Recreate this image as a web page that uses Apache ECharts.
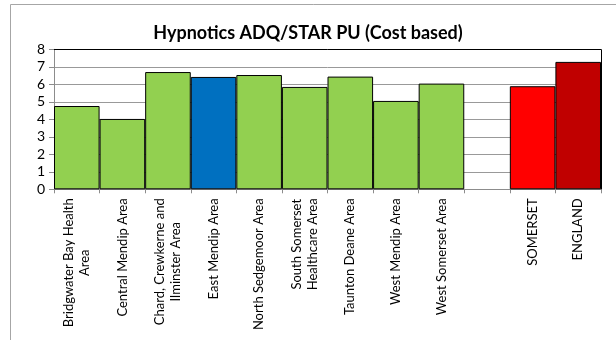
<!DOCTYPE html>
<html>
<head>
<meta charset="utf-8">
<script src="https://cdn.jsdelivr.net/npm/echarts@6/dist/echarts.min.js"></script>
<style>
  html, body { margin: 0; padding: 0; background: #fff; }
  #chart { width: 616px; height: 340px; }
</style>
</head>
<body>
<div id="chart"></div>
<script>
// Areas, with an empty slot separating the local areas from the totals
var categories = [
  'Bridgwater Bay Health\nArea',
  'Central Mendip Area',
  'Chard, Crewkerne and\nIlminster Area',
  'East Mendip Area',
  'North Sedgemoor Area',
  'South Somerset\nHealthcare Area',
  'Taunton Deane Area',
  'West Mendip Area',
  'West Somerset Area',
  '',
  'SOMERSET',
  'ENGLAND'
];

// Hypnotics ADQ/STAR PU (cost based)
var values = [4.76, 4.02, 6.70, 6.42, 6.53, 5.85, 6.44, 5.05, 6.04, null, 5.89, 7.28];

// Value axis ticks
var yTicks = [0, 1, 2, 3, 4, 5, 6, 7, 8];

var titleText = 'Hypnotics ADQ/STAR PU (Cost based)';

// Fill for each bar: local areas green, highlighted area blue, totals red
var barColors = ['#92D050', '#92D050', '#92D050', '#0070C0', '#92D050', '#92D050',
                 '#92D050', '#92D050', '#92D050', '#92D050', '#FF0000', '#C00000'];

var font = 'Lato, "Noto Sans", sans-serif';

var chart = echarts.init(document.getElementById('chart'), null, { renderer: 'canvas' });

var seriesData = values.map(function (v, i) {
  return {
    value: v,
    itemStyle: { color: barColors[i] }
  };
});

chart.setOption({
  animation: false,
  backgroundColor: '#ffffff',
  title: {
    text: titleText,
    left: 'center',
    top: 19,
    textStyle: {
      fontFamily: font,
      fontSize: 18,
      fontWeight: 'bold',
      color: '#000'
    }
  },
  graphic: [{
    type: 'rect',
    shape: { x: 10.5, y: 4.5, width: 700, height: 500 },
    style: { fill: 'none', stroke: '#A6A6A6', lineWidth: 1 },
    silent: true,
    z: -1
  }],
  grid: {
    left: 54,
    right: 15,
    top: 49.3,
    bottom: 150.7,
    show: false
  },
  xAxis: {
    type: 'category',
    data: categories,
    boundaryGap: true,
    axisLine: { show: true, lineStyle: { color: '#8c8c8c', width: 1 } },
    axisTick: { show: true, length: 4, lineStyle: { color: '#8c8c8c' } },
    axisLabel: {
      interval: 0,
      rotate: 90,
      margin: 9,
      fontFamily: font,
      fontSize: 13,
      color: '#000',
      formatter: function (v) {
        if (!v) return '';
        return v.split('\n').map(function (l) { return '{c|' + l + '}'; }).join('\n');
      },
      rich: {
        c: { align: 'center', fontFamily: font, fontSize: 13, lineHeight: 16, color: '#000' }
      }
    },
    splitLine: { show: false }
  },
  yAxis: {
    type: 'value',
    min: yTicks[0],
    max: yTicks[yTicks.length - 1],
    interval: 1,
    axisLine: { show: true, lineStyle: { color: '#8c8c8c', width: 1 } },
    axisTick: { show: true, inside: false, length: 5, lineStyle: { color: '#8c8c8c' } },
    axisLabel: {
      margin: 9,
      fontFamily: font,
      fontSize: 14,
      color: '#000'
    },
    splitLine: { show: true, lineStyle: { color: '#999999', width: 1 } }
  },
  series: [{
    type: 'bar',
    data: seriesData,
    barCategoryGap: '0%',
    itemStyle: { borderColor: '#000', borderWidth: 1 }
  }, {
    // plot area frame: top and right edges in black
    type: 'line',
    data: [],
    markLine: {
      silent: true,
      symbol: 'none',
      label: { show: false },
      lineStyle: { color: '#000', width: 1, type: 'solid' },
      data: [
        [{ x: 54, y: 49.3 }, { x: 601, y: 49.3 }],
        [{ x: 601, y: 49.3 }, { x: 601, y: 189.3 }]
      ]
    }
  }]
});
</script>
</body>
</html>
